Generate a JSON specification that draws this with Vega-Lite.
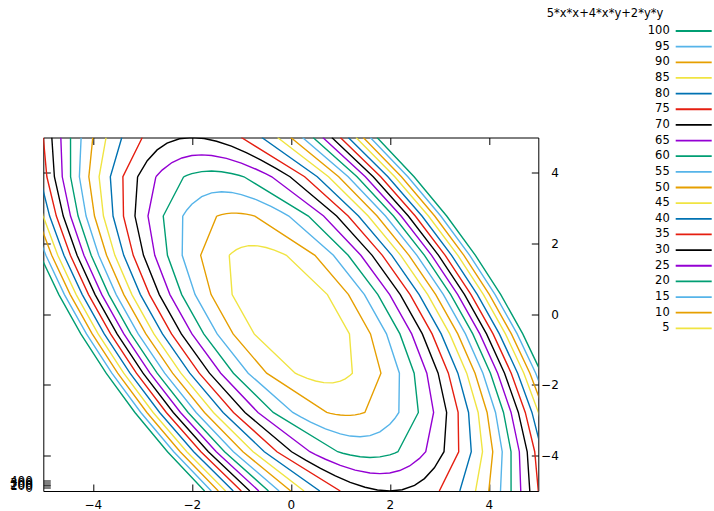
{
  "$schema": "https://vega.github.io/schema/vega-lite/v6.json",
  "autosize": "none",
  "width": 495,
  "height": 353.5,
  "padding": {"left": 43.3, "top": 137.5, "right": 175.7, "bottom": 20},
  "config": {
    "font": "DejaVu Sans",
    "view": {"stroke": "#000", "strokeWidth": 1}
  },
  "data": {"values": [
    {"l":5,"p":0,"x":-1.244,"y":1.667},{"l":5,"p":0,"x":-1.2,"y":1.726},{"l":5,"p":0,"x":-1.1,"y":1.829},{"l":5,"p":0,"x":-1,"y":1.894},{"l":5,"p":0,"x":-0.85,"y":1.94},{"l":5,"p":0,"x":-0.667,"y":1.935},{"l":5,"p":0,"x":-0.5,"y":1.889},{"l":5,"p":0,"x":-0.333,"y":1.814},{"l":5,"p":0,"x":-0.15,"y":1.707},{"l":5,"p":0,"x":-0.089,"y":1.667},{"l":5,"p":0,"x":0.74,"y":0.556},{"l":5,"p":0,"x":1.185,"y":-0.556},{"l":5,"p":0,"x":1.244,"y":-1.667},{"l":5,"p":0,"x":1.2,"y":-1.726},{"l":5,"p":0,"x":1.1,"y":-1.829},{"l":5,"p":0,"x":1,"y":-1.894},{"l":5,"p":0,"x":0.85,"y":-1.94},{"l":5,"p":0,"x":0.667,"y":-1.935},{"l":5,"p":0,"x":0.5,"y":-1.889},{"l":5,"p":0,"x":0.333,"y":-1.814},{"l":5,"p":0,"x":0.15,"y":-1.707},{"l":5,"p":0,"x":0.089,"y":-1.667},{"l":5,"p":0,"x":-0.74,"y":-0.556},{"l":5,"p":0,"x":-1.185,"y":0.556},{"l":5,"p":0,"x":-1.244,"y":1.667},
    {"l":10,"p":0,"x":-1.496,"y":2.778},{"l":10,"p":0,"x":-1.4,"y":2.82},{"l":10,"p":0,"x":-1.3,"y":2.847},{"l":10,"p":0,"x":-1.2,"y":2.86},{"l":10,"p":0,"x":-1.1,"y":2.861},{"l":10,"p":0,"x":-1,"y":2.851},{"l":10,"p":0,"x":-0.9,"y":2.831},{"l":10,"p":0,"x":-0.8,"y":2.803},{"l":10,"p":0,"x":-0.726,"y":2.778},{"l":10,"p":0,"x":0.488,"y":1.667},{"l":10,"p":0,"x":1.166,"y":0.556},{"l":10,"p":0,"x":1.61,"y":-0.556},{"l":10,"p":0,"x":1.821,"y":-1.667},{"l":10,"p":0,"x":1.496,"y":-2.778},{"l":10,"p":0,"x":1.4,"y":-2.82},{"l":10,"p":0,"x":1.3,"y":-2.847},{"l":10,"p":0,"x":1.2,"y":-2.86},{"l":10,"p":0,"x":1.1,"y":-2.861},{"l":10,"p":0,"x":1,"y":-2.851},{"l":10,"p":0,"x":0.9,"y":-2.831},{"l":10,"p":0,"x":0.8,"y":-2.803},{"l":10,"p":0,"x":0.726,"y":-2.778},{"l":10,"p":0,"x":-0.488,"y":-1.667},{"l":10,"p":0,"x":-1.166,"y":-0.556},{"l":10,"p":0,"x":-1.61,"y":0.556},{"l":10,"p":0,"x":-1.821,"y":1.667},{"l":10,"p":0,"x":-1.496,"y":2.778},
    {"l":15,"p":0,"x":-2.183,"y":2.778},{"l":15,"p":0,"x":-2.1,"y":2.95},{"l":15,"p":0,"x":-2,"y":3.113},{"l":15,"p":0,"x":-1.8,"y":3.327},{"l":15,"p":0,"x":-1.6,"y":3.434},{"l":15,"p":0,"x":-1.4,"y":3.466},{"l":15,"p":0,"x":-1.2,"y":3.446},{"l":15,"p":0,"x":-1,"y":3.386},{"l":15,"p":0,"x":-0.7,"y":3.243},{"l":15,"p":0,"x":-0.4,"y":3.052},{"l":15,"p":0,"x":-0.2,"y":2.905},{"l":15,"p":0,"x":-0.04,"y":2.778},{"l":15,"p":0,"x":0.861,"y":1.667},{"l":15,"p":0,"x":1.488,"y":0.556},{"l":15,"p":0,"x":1.933,"y":-0.556},{"l":15,"p":0,"x":2.194,"y":-1.667},{"l":15,"p":0,"x":2.183,"y":-2.778},{"l":15,"p":0,"x":2.1,"y":-2.95},{"l":15,"p":0,"x":2,"y":-3.113},{"l":15,"p":0,"x":1.8,"y":-3.327},{"l":15,"p":0,"x":1.6,"y":-3.434},{"l":15,"p":0,"x":1.4,"y":-3.466},{"l":15,"p":0,"x":1.2,"y":-3.446},{"l":15,"p":0,"x":1,"y":-3.386},{"l":15,"p":0,"x":0.7,"y":-3.243},{"l":15,"p":0,"x":0.4,"y":-3.052},{"l":15,"p":0,"x":0.2,"y":-2.905},{"l":15,"p":0,"x":0.04,"y":-2.778},{"l":15,"p":0,"x":-0.861,"y":-1.667},{"l":15,"p":0,"x":-1.488,"y":-0.556},{"l":15,"p":0,"x":-1.933,"y":0.556},{"l":15,"p":0,"x":-2.194,"y":1.667},{"l":15,"p":0,"x":-2.183,"y":2.778},
    {"l":20,"p":0,"x":-2.164,"y":3.889},{"l":20,"p":0,"x":-2.1,"y":3.928},{"l":20,"p":0,"x":-2,"y":3.977},{"l":20,"p":0,"x":-1.8,"y":4.036},{"l":20,"p":0,"x":-1.6,"y":4.051},{"l":20,"p":0,"x":-1.4,"y":4.031},{"l":20,"p":0,"x":-1.2,"y":3.983},{"l":20,"p":0,"x":-1.05,"y":3.931},{"l":20,"p":0,"x":-0.947,"y":3.889},{"l":20,"p":0,"x":0.355,"y":2.778},{"l":20,"p":0,"x":1.159,"y":1.667},{"l":20,"p":0,"x":1.759,"y":0.556},{"l":20,"p":0,"x":2.204,"y":-0.556},{"l":20,"p":0,"x":2.492,"y":-1.667},{"l":20,"p":0,"x":2.577,"y":-2.778},{"l":20,"p":0,"x":2.164,"y":-3.889},{"l":20,"p":0,"x":2.1,"y":-3.928},{"l":20,"p":0,"x":2,"y":-3.977},{"l":20,"p":0,"x":1.8,"y":-4.036},{"l":20,"p":0,"x":1.6,"y":-4.051},{"l":20,"p":0,"x":1.4,"y":-4.031},{"l":20,"p":0,"x":1.2,"y":-3.983},{"l":20,"p":0,"x":1.05,"y":-3.931},{"l":20,"p":0,"x":0.947,"y":-3.889},{"l":20,"p":0,"x":-0.355,"y":-2.778},{"l":20,"p":0,"x":-1.159,"y":-1.667},{"l":20,"p":0,"x":-1.759,"y":-0.556},{"l":20,"p":0,"x":-2.204,"y":0.556},{"l":20,"p":0,"x":-2.492,"y":1.667},{"l":20,"p":0,"x":-2.577,"y":2.778},{"l":20,"p":0,"x":-2.164,"y":3.889},
    {"l":25,"p":0,"x":-2.726,"y":3.889},{"l":25,"p":0,"x":-2.6,"y":4.078},{"l":25,"p":0,"x":-2.4,"y":4.291},{"l":25,"p":0,"x":-2.2,"y":4.421},{"l":25,"p":0,"x":-2,"y":4.489},{"l":25,"p":0,"x":-1.8,"y":4.509},{"l":25,"p":0,"x":-1.6,"y":4.49},{"l":25,"p":0,"x":-1.3,"y":4.408},{"l":25,"p":0,"x":-1,"y":4.274},{"l":25,"p":0,"x":-0.7,"y":4.102},{"l":25,"p":0,"x":-0.5,"y":3.97},{"l":25,"p":0,"x":-0.385,"y":3.889},{"l":25,"p":0,"x":0.663,"y":2.778},{"l":25,"p":0,"x":1.415,"y":1.667},{"l":25,"p":0,"x":1.997,"y":0.556},{"l":25,"p":0,"x":2.442,"y":-0.556},{"l":25,"p":0,"x":2.748,"y":-1.667},{"l":25,"p":0,"x":2.885,"y":-2.778},{"l":25,"p":0,"x":2.726,"y":-3.889},{"l":25,"p":0,"x":2.6,"y":-4.078},{"l":25,"p":0,"x":2.4,"y":-4.291},{"l":25,"p":0,"x":2.2,"y":-4.421},{"l":25,"p":0,"x":2,"y":-4.489},{"l":25,"p":0,"x":1.8,"y":-4.509},{"l":25,"p":0,"x":1.6,"y":-4.49},{"l":25,"p":0,"x":1.3,"y":-4.408},{"l":25,"p":0,"x":1,"y":-4.274},{"l":25,"p":0,"x":0.7,"y":-4.102},{"l":25,"p":0,"x":0.5,"y":-3.97},{"l":25,"p":0,"x":0.385,"y":-3.889},{"l":25,"p":0,"x":-0.663,"y":-2.778},{"l":25,"p":0,"x":-1.415,"y":-1.667},{"l":25,"p":0,"x":-1.997,"y":-0.556},{"l":25,"p":0,"x":-2.442,"y":0.556},{"l":25,"p":0,"x":-2.748,"y":1.667},{"l":25,"p":0,"x":-2.885,"y":2.778},{"l":25,"p":0,"x":-2.726,"y":3.889},
    {"l":30,"p":0,"x":-3.095,"y":3.889},{"l":30,"p":0,"x":-2.9,"y":4.345},{"l":30,"p":0,"x":-2.7,"y":4.649},{"l":30,"p":0,"x":-2.5,"y":4.839},{"l":30,"p":0,"x":-2.25,"y":4.964},{"l":30,"p":0,"x":-2,"y":5},{"l":30,"p":0,"x":-1.75,"y":4.971},{"l":30,"p":0,"x":-1.5,"y":4.894},{"l":30,"p":0,"x":-1.2,"y":4.754},{"l":30,"p":0,"x":-0.9,"y":4.573},{"l":30,"p":0,"x":-0.6,"y":4.363},{"l":30,"p":0,"x":-0.3,"y":4.128},{"l":30,"p":0,"x":-0.016,"y":3.889},{"l":30,"p":0,"x":0.926,"y":2.778},{"l":30,"p":0,"x":1.643,"y":1.667},{"l":30,"p":0,"x":2.212,"y":0.556},{"l":30,"p":0,"x":2.657,"y":-0.556},{"l":30,"p":0,"x":2.976,"y":-1.667},{"l":30,"p":0,"x":3.148,"y":-2.778},{"l":30,"p":0,"x":3.095,"y":-3.889},{"l":30,"p":0,"x":2.9,"y":-4.345},{"l":30,"p":0,"x":2.7,"y":-4.649},{"l":30,"p":0,"x":2.5,"y":-4.839},{"l":30,"p":0,"x":2.25,"y":-4.964},{"l":30,"p":0,"x":2,"y":-5},{"l":30,"p":0,"x":1.75,"y":-4.971},{"l":30,"p":0,"x":1.5,"y":-4.894},{"l":30,"p":0,"x":1.2,"y":-4.754},{"l":30,"p":0,"x":0.9,"y":-4.573},{"l":30,"p":0,"x":0.6,"y":-4.363},{"l":30,"p":0,"x":0.3,"y":-4.128},{"l":30,"p":0,"x":0.016,"y":-3.889},{"l":30,"p":0,"x":-0.926,"y":-2.778},{"l":30,"p":0,"x":-1.643,"y":-1.667},{"l":30,"p":0,"x":-2.212,"y":-0.556},{"l":30,"p":0,"x":-2.657,"y":0.556},{"l":30,"p":0,"x":-2.976,"y":1.667},{"l":30,"p":0,"x":-3.148,"y":2.778},{"l":30,"p":0,"x":-3.095,"y":3.889},
    {"l":35,"p":0,"x":-3,"y":5},{"l":35,"p":0,"x":-3.392,"y":3.889},{"l":35,"p":0,"x":-3.38,"y":2.778},{"l":35,"p":0,"x":-3.183,"y":1.667},{"l":35,"p":0,"x":-2.854,"y":0.556},{"l":35,"p":0,"x":-2.41,"y":-0.556},{"l":35,"p":0,"x":-1.85,"y":-1.667},{"l":35,"p":0,"x":-1.158,"y":-2.778},{"l":35,"p":0,"x":-0.28,"y":-3.889},{"l":35,"p":0,"x":1,"y":-5},
    {"l":35,"p":1,"x":3,"y":-5},{"l":35,"p":1,"x":3.392,"y":-3.889},{"l":35,"p":1,"x":3.38,"y":-2.778},{"l":35,"p":1,"x":3.183,"y":-1.667},{"l":35,"p":1,"x":2.854,"y":-0.556},{"l":35,"p":1,"x":2.41,"y":0.556},{"l":35,"p":1,"x":1.85,"y":1.667},{"l":35,"p":1,"x":1.158,"y":2.778},{"l":35,"p":1,"x":0.28,"y":3.889},{"l":35,"p":1,"x":-1,"y":5},
    {"l":40,"p":0,"x":-3.414,"y":5},{"l":40,"p":0,"x":-3.646,"y":3.889},{"l":40,"p":0,"x":-3.591,"y":2.778},{"l":40,"p":0,"x":-3.375,"y":1.667},{"l":40,"p":0,"x":-3.038,"y":0.556},{"l":40,"p":0,"x":-2.593,"y":-0.556},{"l":40,"p":0,"x":-2.041,"y":-1.667},{"l":40,"p":0,"x":-1.368,"y":-2.778},{"l":40,"p":0,"x":-0.535,"y":-3.889},{"l":40,"p":0,"x":0.586,"y":-5},
    {"l":40,"p":1,"x":3.414,"y":-5},{"l":40,"p":1,"x":3.646,"y":-3.889},{"l":40,"p":1,"x":3.591,"y":-2.778},{"l":40,"p":1,"x":3.375,"y":-1.667},{"l":40,"p":1,"x":3.038,"y":-0.556},{"l":40,"p":1,"x":2.593,"y":0.556},{"l":40,"p":1,"x":2.041,"y":1.667},{"l":40,"p":1,"x":1.368,"y":2.778},{"l":40,"p":1,"x":0.535,"y":3.889},{"l":40,"p":1,"x":-0.586,"y":5},
    {"l":45,"p":0,"x":-3.732,"y":5},{"l":45,"p":0,"x":-3.873,"y":3.889},{"l":45,"p":0,"x":-3.785,"y":2.778},{"l":45,"p":0,"x":-3.554,"y":1.667},{"l":45,"p":0,"x":-3.21,"y":0.556},{"l":45,"p":0,"x":-2.766,"y":-0.556},{"l":45,"p":0,"x":-2.22,"y":-1.667},{"l":45,"p":0,"x":-1.563,"y":-2.778},{"l":45,"p":0,"x":-0.762,"y":-3.889},{"l":45,"p":0,"x":0.268,"y":-5},
    {"l":45,"p":1,"x":3.732,"y":-5},{"l":45,"p":1,"x":3.873,"y":-3.889},{"l":45,"p":1,"x":3.785,"y":-2.778},{"l":45,"p":1,"x":3.554,"y":-1.667},{"l":45,"p":1,"x":3.21,"y":-0.556},{"l":45,"p":1,"x":2.766,"y":0.556},{"l":45,"p":1,"x":2.22,"y":1.667},{"l":45,"p":1,"x":1.563,"y":2.778},{"l":45,"p":1,"x":0.762,"y":3.889},{"l":45,"p":1,"x":-0.268,"y":5},
    {"l":50,"p":0,"x":-4,"y":5},{"l":50,"p":0,"x":-4.08,"y":3.889},{"l":50,"p":0,"x":-3.966,"y":2.778},{"l":50,"p":0,"x":-3.722,"y":1.667},{"l":50,"p":0,"x":-3.373,"y":0.556},{"l":50,"p":0,"x":-2.928,"y":-0.556},{"l":50,"p":0,"x":-2.388,"y":-1.667},{"l":50,"p":0,"x":-1.743,"y":-2.778},{"l":50,"p":0,"x":-0.968,"y":-3.889},{"l":50,"p":0,"x":0,"y":-5},
    {"l":50,"p":1,"x":4,"y":-5},{"l":50,"p":1,"x":4.08,"y":-3.889},{"l":50,"p":1,"x":3.966,"y":-2.778},{"l":50,"p":1,"x":3.722,"y":-1.667},{"l":50,"p":1,"x":3.373,"y":-0.556},{"l":50,"p":1,"x":2.928,"y":0.556},{"l":50,"p":1,"x":2.388,"y":1.667},{"l":50,"p":1,"x":1.743,"y":2.778},{"l":50,"p":1,"x":0.968,"y":3.889},{"l":50,"p":1,"x":0,"y":5},
    {"l":55,"p":0,"x":-4.236,"y":5},{"l":55,"p":0,"x":-4.271,"y":3.889},{"l":55,"p":0,"x":-4.136,"y":2.778},{"l":55,"p":0,"x":-3.881,"y":1.667},{"l":55,"p":0,"x":-3.528,"y":0.556},{"l":55,"p":0,"x":-3.083,"y":-0.556},{"l":55,"p":0,"x":-2.548,"y":-1.667},{"l":55,"p":0,"x":-1.913,"y":-2.778},{"l":55,"p":0,"x":-1.159,"y":-3.889},{"l":55,"p":0,"x":-0.236,"y":-5},
    {"l":55,"p":1,"x":4.236,"y":-5},{"l":55,"p":1,"x":4.271,"y":-3.889},{"l":55,"p":1,"x":4.136,"y":-2.778},{"l":55,"p":1,"x":3.881,"y":-1.667},{"l":55,"p":1,"x":3.528,"y":-0.556},{"l":55,"p":1,"x":3.083,"y":0.556},{"l":55,"p":1,"x":2.548,"y":1.667},{"l":55,"p":1,"x":1.913,"y":2.778},{"l":55,"p":1,"x":1.159,"y":3.889},{"l":55,"p":1,"x":0.236,"y":5},
    {"l":60,"p":0,"x":-4.45,"y":5},{"l":60,"p":0,"x":-4.449,"y":3.889},{"l":60,"p":0,"x":-4.297,"y":2.778},{"l":60,"p":0,"x":-4.033,"y":1.667},{"l":60,"p":0,"x":-3.676,"y":0.556},{"l":60,"p":0,"x":-3.231,"y":-0.556},{"l":60,"p":0,"x":-2.7,"y":-1.667},{"l":60,"p":0,"x":-2.075,"y":-2.778},{"l":60,"p":0,"x":-1.338,"y":-3.889},{"l":60,"p":0,"x":-0.45,"y":-5},
    {"l":60,"p":1,"x":4.45,"y":-5},{"l":60,"p":1,"x":4.449,"y":-3.889},{"l":60,"p":1,"x":4.297,"y":-2.778},{"l":60,"p":1,"x":4.033,"y":-1.667},{"l":60,"p":1,"x":3.676,"y":-0.556},{"l":60,"p":1,"x":3.231,"y":0.556},{"l":60,"p":1,"x":2.7,"y":1.667},{"l":60,"p":1,"x":2.075,"y":2.778},{"l":60,"p":1,"x":1.338,"y":3.889},{"l":60,"p":1,"x":0.45,"y":5},
    {"l":65,"p":0,"x":-4.646,"y":5},{"l":65,"p":0,"x":-4.617,"y":3.889},{"l":65,"p":0,"x":-4.45,"y":2.778},{"l":65,"p":0,"x":-4.179,"y":1.667},{"l":65,"p":0,"x":-3.818,"y":0.556},{"l":65,"p":0,"x":-3.373,"y":-0.556},{"l":65,"p":0,"x":-2.845,"y":-1.667},{"l":65,"p":0,"x":-2.228,"y":-2.778},{"l":65,"p":0,"x":-1.506,"y":-3.889},{"l":65,"p":0,"x":-0.646,"y":-5},
    {"l":65,"p":1,"x":4.646,"y":-5},{"l":65,"p":1,"x":4.617,"y":-3.889},{"l":65,"p":1,"x":4.45,"y":-2.778},{"l":65,"p":1,"x":4.179,"y":-1.667},{"l":65,"p":1,"x":3.818,"y":-0.556},{"l":65,"p":1,"x":3.373,"y":0.556},{"l":65,"p":1,"x":2.845,"y":1.667},{"l":65,"p":1,"x":2.228,"y":2.778},{"l":65,"p":1,"x":1.506,"y":3.889},{"l":65,"p":1,"x":0.646,"y":5},
    {"l":70,"p":0,"x":-4.828,"y":5},{"l":70,"p":0,"x":-4.776,"y":3.889},{"l":70,"p":0,"x":-4.597,"y":2.778},{"l":70,"p":0,"x":-4.318,"y":1.667},{"l":70,"p":0,"x":-3.954,"y":0.556},{"l":70,"p":0,"x":-3.51,"y":-0.556},{"l":70,"p":0,"x":-2.985,"y":-1.667},{"l":70,"p":0,"x":-2.374,"y":-2.778},{"l":70,"p":0,"x":-1.665,"y":-3.889},{"l":70,"p":0,"x":-0.828,"y":-5},
    {"l":70,"p":1,"x":4.828,"y":-5},{"l":70,"p":1,"x":4.776,"y":-3.889},{"l":70,"p":1,"x":4.597,"y":-2.778},{"l":70,"p":1,"x":4.318,"y":-1.667},{"l":70,"p":1,"x":3.954,"y":-0.556},{"l":70,"p":1,"x":3.51,"y":0.556},{"l":70,"p":1,"x":2.985,"y":1.667},{"l":70,"p":1,"x":2.374,"y":2.778},{"l":70,"p":1,"x":1.665,"y":3.889},{"l":70,"p":1,"x":0.828,"y":5},
    {"l":75,"p":0,"x":-5,"y":5},{"l":75,"p":0,"x":-4.928,"y":3.889},{"l":75,"p":0,"x":-4.737,"y":2.778},{"l":75,"p":0,"x":-4.453,"y":1.667},{"l":75,"p":0,"x":-4.086,"y":0.556},{"l":75,"p":0,"x":-3.641,"y":-0.556},{"l":75,"p":0,"x":-3.119,"y":-1.667},{"l":75,"p":0,"x":-2.515,"y":-2.778},{"l":75,"p":0,"x":-1.816,"y":-3.889},{"l":75,"p":0,"x":-1,"y":-5},
    {"l":75,"p":1,"x":5,"y":-5},{"l":75,"p":1,"x":4.928,"y":-3.889},{"l":75,"p":1,"x":4.737,"y":-2.778},{"l":75,"p":1,"x":4.453,"y":-1.667},{"l":75,"p":1,"x":4.086,"y":-0.556},{"l":75,"p":1,"x":3.641,"y":0.556},{"l":75,"p":1,"x":3.119,"y":1.667},{"l":75,"p":1,"x":2.515,"y":2.778},{"l":75,"p":1,"x":1.816,"y":3.889},{"l":75,"p":1,"x":1,"y":5},
    {"l":80,"p":0,"x":-5.162,"y":5},{"l":80,"p":0,"x":-5.073,"y":3.889},{"l":80,"p":0,"x":-4.872,"y":2.778},{"l":80,"p":0,"x":-4.583,"y":1.667},{"l":80,"p":0,"x":-4.213,"y":0.556},{"l":80,"p":0,"x":-3.769,"y":-0.556},{"l":80,"p":0,"x":-3.249,"y":-1.667},{"l":80,"p":0,"x":-2.65,"y":-2.778},{"l":80,"p":0,"x":-1.962,"y":-3.889},{"l":80,"p":0,"x":-1.162,"y":-5},
    {"l":80,"p":1,"x":5.162,"y":-5},{"l":80,"p":1,"x":5.073,"y":-3.889},{"l":80,"p":1,"x":4.872,"y":-2.778},{"l":80,"p":1,"x":4.583,"y":-1.667},{"l":80,"p":1,"x":4.213,"y":-0.556},{"l":80,"p":1,"x":3.769,"y":0.556},{"l":80,"p":1,"x":3.249,"y":1.667},{"l":80,"p":1,"x":2.65,"y":2.778},{"l":80,"p":1,"x":1.962,"y":3.889},{"l":80,"p":1,"x":1.162,"y":5},
    {"l":85,"p":0,"x":-5.317,"y":5},{"l":85,"p":0,"x":-5.212,"y":3.889},{"l":85,"p":0,"x":-5.003,"y":2.778},{"l":85,"p":0,"x":-4.708,"y":1.667},{"l":85,"p":0,"x":-4.336,"y":0.556},{"l":85,"p":0,"x":-3.892,"y":-0.556},{"l":85,"p":0,"x":-3.375,"y":-1.667},{"l":85,"p":0,"x":-2.781,"y":-2.778},{"l":85,"p":0,"x":-2.101,"y":-3.889},{"l":85,"p":0,"x":-1.317,"y":-5},
    {"l":85,"p":1,"x":5.317,"y":-5},{"l":85,"p":1,"x":5.212,"y":-3.889},{"l":85,"p":1,"x":5.003,"y":-2.778},{"l":85,"p":1,"x":4.708,"y":-1.667},{"l":85,"p":1,"x":4.336,"y":-0.556},{"l":85,"p":1,"x":3.892,"y":0.556},{"l":85,"p":1,"x":3.375,"y":1.667},{"l":85,"p":1,"x":2.781,"y":2.778},{"l":85,"p":1,"x":2.101,"y":3.889},{"l":85,"p":1,"x":1.317,"y":5},
    {"l":90,"p":0,"x":-5.464,"y":5},{"l":90,"p":0,"x":-5.346,"y":3.889},{"l":90,"p":0,"x":-5.13,"y":2.778},{"l":90,"p":0,"x":-4.83,"y":1.667},{"l":90,"p":0,"x":-4.456,"y":0.556},{"l":90,"p":0,"x":-4.012,"y":-0.556},{"l":90,"p":0,"x":-3.497,"y":-1.667},{"l":90,"p":0,"x":-2.907,"y":-2.778},{"l":90,"p":0,"x":-2.235,"y":-3.889},{"l":90,"p":0,"x":-1.464,"y":-5},
    {"l":90,"p":1,"x":5.464,"y":-5},{"l":90,"p":1,"x":5.346,"y":-3.889},{"l":90,"p":1,"x":5.13,"y":-2.778},{"l":90,"p":1,"x":4.83,"y":-1.667},{"l":90,"p":1,"x":4.456,"y":-0.556},{"l":90,"p":1,"x":4.012,"y":0.556},{"l":90,"p":1,"x":3.497,"y":1.667},{"l":90,"p":1,"x":2.907,"y":2.778},{"l":90,"p":1,"x":2.235,"y":3.889},{"l":90,"p":1,"x":1.464,"y":5},
    {"l":95,"p":0,"x":-5.606,"y":5},{"l":95,"p":0,"x":-5.476,"y":3.889},{"l":95,"p":0,"x":-5.252,"y":2.778},{"l":95,"p":0,"x":-4.948,"y":1.667},{"l":95,"p":0,"x":-4.573,"y":0.556},{"l":95,"p":0,"x":-4.128,"y":-0.556},{"l":95,"p":0,"x":-3.615,"y":-1.667},{"l":95,"p":0,"x":-3.03,"y":-2.778},{"l":95,"p":0,"x":-2.365,"y":-3.889},{"l":95,"p":0,"x":-1.606,"y":-5},
    {"l":95,"p":1,"x":5.606,"y":-5},{"l":95,"p":1,"x":5.476,"y":-3.889},{"l":95,"p":1,"x":5.252,"y":-2.778},{"l":95,"p":1,"x":4.948,"y":-1.667},{"l":95,"p":1,"x":4.573,"y":-0.556},{"l":95,"p":1,"x":4.128,"y":0.556},{"l":95,"p":1,"x":3.615,"y":1.667},{"l":95,"p":1,"x":3.03,"y":2.778},{"l":95,"p":1,"x":2.365,"y":3.889},{"l":95,"p":1,"x":1.606,"y":5},
    {"l":100,"p":0,"x":-5.742,"y":5},{"l":100,"p":0,"x":-5.602,"y":3.889},{"l":100,"p":0,"x":-5.371,"y":2.778},{"l":100,"p":0,"x":-5.064,"y":1.667},{"l":100,"p":0,"x":-4.686,"y":0.556},{"l":100,"p":0,"x":-4.242,"y":-0.556},{"l":100,"p":0,"x":-3.73,"y":-1.667},{"l":100,"p":0,"x":-3.149,"y":-2.778},{"l":100,"p":0,"x":-2.491,"y":-3.889},{"l":100,"p":0,"x":-1.742,"y":-5},
    {"l":100,"p":1,"x":5.742,"y":-5},{"l":100,"p":1,"x":5.602,"y":-3.889},{"l":100,"p":1,"x":5.371,"y":-2.778},{"l":100,"p":1,"x":5.064,"y":-1.667},{"l":100,"p":1,"x":4.686,"y":-0.556},{"l":100,"p":1,"x":4.242,"y":0.556},{"l":100,"p":1,"x":3.73,"y":1.667},{"l":100,"p":1,"x":3.149,"y":2.778},{"l":100,"p":1,"x":2.491,"y":3.889},{"l":100,"p":1,"x":1.742,"y":5}
  ]},
  "resolve": {"axis": {"x": "independent", "y": "independent"}},
  "layer": [
    {
      "mark": {"type": "line", "clip": true, "strokeWidth": 1.4},
      "encoding": {
        "x": {"field": "x", "type": "quantitative",
              "scale": {"domain": [-5, 5], "nice": false, "zero": false},
              "axis": {"orient": "bottom", "values": [-4, -2, 0, 2, 4], "title": null, "grid": false, "domain": false,
                       "tickSize": -7, "tickColor": "#000", "labelPadding": 15, "labelColor": "#000",
                       "labelFont": "DejaVu Sans", "labelFontSize": 12}},
        "y": {"field": "y", "type": "quantitative",
              "scale": {"domain": [-5, 5], "nice": false, "zero": false},
              "axis": {"orient": "right", "values": [-4, -2, 0, 2, 4], "title": null, "grid": false, "domain": false,
                       "tickSize": -7, "tickColor": "#000", "labelPadding": 27, "labelAlign": "right", "labelColor": "#000",
                       "labelFont": "DejaVu Sans", "labelFontSize": 12}},
        "color": {"field": "l", "type": "ordinal",
                  "scale": {"domain": [100,95,90,85,80,75,70,65,60,55,50,45,40,35,30,25,20,15,10,5],
                            "range": ["#009E73","#56B4E9","#E69F00","#F0E442","#0072B2","#E51E10","#000000","#9400D3","#009E73","#56B4E9","#E69F00","#F0E442","#0072B2","#E51E10","#000000","#9400D3","#009E73","#56B4E9","#E69F00","#F0E442"]},
                  "legend": {"orient": "none", "legendX": 503.4, "legendY": -130, "title": "5*x*x+4*x*y+2*y*y",
                             "padding": 0, "titleFont": "DejaVu Sans", "titleFontSize": 11.5, "titleFontWeight": "normal", "titleColor": "#000",
                             "titlePadding": 5, "labelFont": "DejaVu Sans", "labelFontSize": 11.5, "labelColor": "#000",
                             "labelAlign": "right", "labelOffset": -31, "symbolOffset": 140,
                             "symbolType": "M-3,0H3", "symbolSize": 144, "symbolStrokeWidth": 1.8, "rowPadding": 2.65}},
        "detail": {"field": "p"},
        "order": {"value": null}
      }
    },
    {
      "transform": [{"filter": "datum.l == 5"}],
      "mark": {"type": "line", "strokeOpacity": 0},
      "encoding": {
        "x": {"field": "x", "type": "quantitative",
              "scale": {"domain": [-5, 5], "nice": false, "zero": false},
              "axis": {"orient": "top", "values": [-4, -2, 0, 2, 4], "title": null, "grid": false, "domain": false,
                       "labels": false, "tickSize": -7, "tickColor": "#000"}},
        "y": {"field": "y", "type": "quantitative",
              "scale": {"domain": [-5, 5], "nice": false, "zero": false},
              "axis": {"orient": "left", "values": [-4, -2, 0, 2, 4, -4.901, -4.853, -4.805, -4.757, -4.709], "title": null, "grid": false, "domain": false,
                       "tickSize": -7, "tickColor": "#000", "labelOverlap": false, "labelPadding": 18, "labelColor": "#000",
                       "labelFont": "DejaVu Sans", "labelFontSize": 12,
                       "labelExpr": "datum.value > -4.5 ? '' : ['0','100','200','300','400'][round((datum.value + 4.901) / 0.048)]"}}
      }
    }
  ]
}
